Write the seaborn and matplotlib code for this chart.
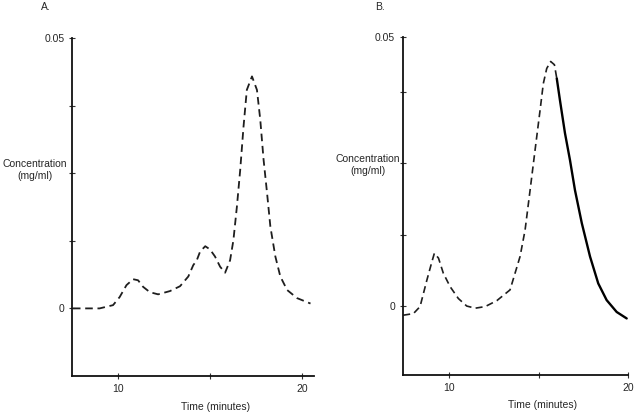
import matplotlib
matplotlib.use("Agg")
import matplotlib.pyplot as plt
import seaborn as sns

# ---- data ----
a_time = [7.55, 9.0, 9.73, 10.09, 10.46, 10.82, 11.09, 11.36, 11.73, 12.18, 12.82, 13.37,
          13.82, 14.09, 14.28, 14.46, 14.74, 15.0, 15.27, 15.55, 15.82, 16.09, 16.27,
          16.46, 16.64, 16.82, 17.0, 17.28, 17.55, 17.73, 17.91, 18.1, 18.28, 18.55,
          18.82, 19.19, 19.73, 20.46]
a_conc = [0.0, 0.0, 0.0006, 0.0021, 0.0043, 0.0054, 0.0052, 0.004, 0.003, 0.0026, 0.0032,
          0.0041, 0.0059, 0.008, 0.0089, 0.0105, 0.0115, 0.0109, 0.0096, 0.0077, 0.0066,
          0.0089, 0.0126, 0.0188, 0.0256, 0.0336, 0.0404, 0.0429, 0.0404, 0.0349, 0.0275,
          0.0213, 0.0151, 0.0096, 0.0059, 0.0034, 0.0019, 0.0009]

b_dash_time = [7.42, 7.99, 8.36, 8.74, 9.02, 9.16, 9.39, 9.66, 10.04, 10.5, 10.97, 11.44,
               12.0, 12.65, 13.39, 13.95, 14.23, 14.51, 14.79, 15.07, 15.25, 15.44, 15.66,
               15.87, 16.0]
b_dash_conc = [-0.0017, -0.0014, -0.0001, 0.0048, 0.0082, 0.0098, 0.0089, 0.0061, 0.0036,
               0.0014, 0.0, -0.0004, -0.0001, 0.001, 0.003, 0.0092, 0.0141, 0.0215, 0.029,
               0.0364, 0.0413, 0.0441, 0.0454, 0.0448, 0.0423]
b_solid_time = [16.0, 16.18, 16.46, 16.74, 17.02, 17.4, 17.86, 18.32, 18.79, 19.35, 19.91]
b_solid_conc = [0.0423, 0.0382, 0.0321, 0.0271, 0.0215, 0.0154, 0.0092, 0.0042, 0.0011,
                -0.0011, -0.0023]

x_ticks = [10, 15, 20]
x_ticklabels = ["10", "", "20"]
y_labels_text = ["0", "", "", "", "0.05"]
panel_titles = ["A.", "B."]
ylabel_text = "Concentration\n(mg/ml)"
xlabel_text = "Time (minutes)"

sns.set_style("white")
plt.rcParams["font.family"] = ["Liberation Sans", "DejaVu Sans"]

W, H = 640, 417
fig = plt.figure(figsize=(W / 100, H / 100), dpi=100)

def px_axes(left, top, right, bottom):
    return fig.add_axes([left / W, 1 - bottom / H, (right - left) / W, (bottom - top) / H])

line_col = "#1e1e1e"
dash = (4.2, 2.6)
FS = 7.5

def style_axes(ax, xlim, ylim, yticks, lab_x, lab_y, xl_x, xl_y):
    ax.set_xlim(*xlim)
    ax.set_ylim(*ylim)
    for s in ["top", "right"]:
        ax.spines[s].set_visible(False)
    for s in ["left", "bottom"]:
        ax.spines[s].set_color("#111111")
        ax.spines[s].set_linewidth(1.3)
    ax.set_xticks(x_ticks)
    ax.set_xticklabels(x_ticklabels)
    ax.set_yticks(yticks)
    ax.set_yticklabels(y_labels_text)
    ax.tick_params(axis="both", direction="inout", length=5, width=0.8, color="#333333",
                   labelsize=FS, pad=3, left=True, bottom=True)
    ax.set_ylabel(ylabel_text, rotation=0, fontsize=FS, ha="center", va="center",
                  linespacing=1.3)
    ax.yaxis.set_label_coords(lab_x, lab_y)
    ax.set_xlabel(xlabel_text, fontsize=FS, ha="center", va="center")
    ax.xaxis.set_label_coords(xl_x, xl_y)
    ax.grid(False)
    ax.set_facecolor("white")

# Panel A
axA = px_axes(72, 38, 314, 376)
sns.lineplot(x=a_time, y=a_conc, ax=axA, color=line_col, linewidth=1.3)
for ln in axA.get_lines():
    ln.set_dashes(dash)
style_axes(axA, (7.5, 20.65), (-0.0125, 0.05), [0, 0.0125, 0.025, 0.0375, 0.05],
           -0.153, 0.61, 0.595, -0.092)

# Panel B
axB = px_axes(402.7, 36.7, 628.3, 375)
sns.lineplot(x=b_dash_time, y=b_dash_conc, ax=axB, color=line_col, linewidth=1.2)
for ln in axB.get_lines():
    ln.set_dashes(dash)
sns.lineplot(x=b_solid_time, y=b_solid_conc, ax=axB, color="black", linewidth=1.7)
style_axes(axB, (7.39, 20.0), (-0.0128, 0.05), [0, 0.0132, 0.0265, 0.0397, 0.05],
           -0.154, 0.62, 0.622, -0.089)

fig.text(41 / W, 1 - 7 / H, panel_titles[0], fontsize=FS, va="center", ha="left")
fig.text(375 / W, 1 - 7 / H, panel_titles[1], fontsize=FS, va="center", ha="left")

fig.savefig("out.png", dpi=100, facecolor="white")
